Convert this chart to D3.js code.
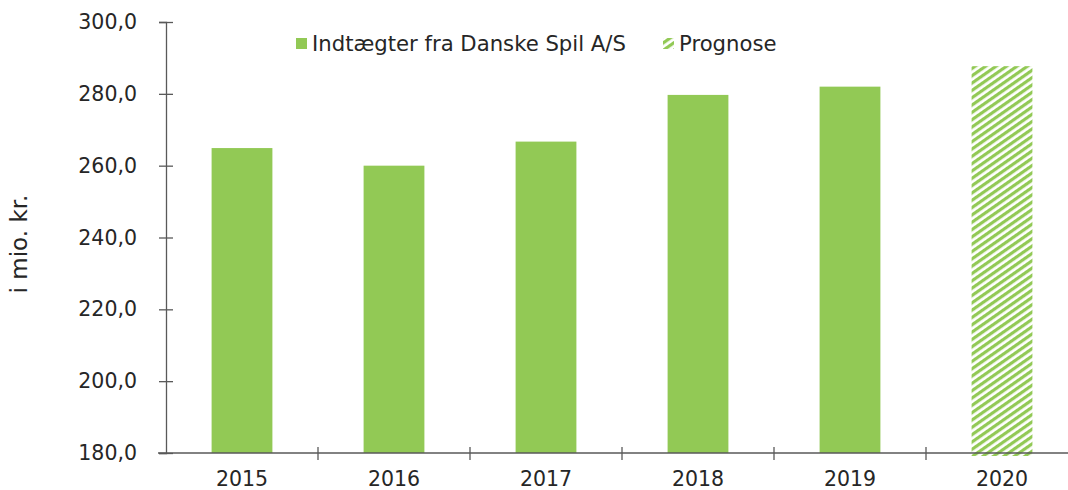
<!DOCTYPE html>
<html>
<head>
<meta charset="utf-8">
<script src="https://cdn.jsdelivr.net/npm/d3@7"></script>
<style>
  body { margin: 0; background: #fff; }
  svg { display: block; font-family: "DejaVu Sans", Verdana, sans-serif; }
</style>
</head>
<body>
<div id="chart"></div>
<script>
const years = ['2015', '2016', '2017', '2018', '2019', '2020'];
const values = [264.9, 260.0, 266.7, 279.7, 282.0, 287.7];
const forecast = [false, false, false, false, false, true];
const yTicks = [180, 200, 220, 240, 260, 280, 300];
const legendLabels = ['Indtægter fra Danske Spil A/S', 'Prognose'];

const width = 1068, height = 490;
const margin = { top: 22, right: -10, bottom: 37, left: 166 };
const green = '#92c955';
const textColor = '#262626';
const axisColor = '#595959';

const svg = d3.select('#chart').append('svg')
    .attr('width', width)
    .attr('height', height);

// hatch for the forecast bar
const defs = svg.append('defs');
const pat = defs.append('pattern')
    .attr('id', 'hatch')
    .attr('patternUnits', 'userSpaceOnUse')
    .attr('width', 6)
    .attr('height', 6)
    .attr('patternTransform', 'rotate(-35)');
pat.append('rect').attr('width', 6).attr('height', 6).attr('fill', '#fff');
pat.append('rect').attr('width', 6).attr('height', 3.2).attr('fill', green);

const x = d3.scaleBand()
    .domain(years)
    .range([margin.left, width - margin.right])
    .paddingInner(0.6)
    .paddingOuter(0.3);

const xOuter = d3.scaleBand()
    .domain(years)
    .range([margin.left, width - margin.right]);

const y = d3.scaleLinear()
    .domain([180, 300])
    .range([height - margin.bottom, margin.top]);

// bars
svg.append('g').selectAll('rect.bar')
    .data(years.map((yr, i) => ({ yr, v: values[i], f: forecast[i] })))
    .enter().append('rect')
    .attr('class', 'bar')
    .attr('x', d => x(d.yr))
    .attr('width', x.bandwidth())
    .attr('y', d => y(d.v))
    .attr('height', d => y(180) - y(d.v) + (d.f ? 3 : 0))
    .attr('fill', d => d.f ? 'url(#hatch)' : green);

// y axis
const yAxis = svg.append('g')
    .attr('transform', `translate(${margin.left},0)`)
    .call(d3.axisLeft(y).tickValues(yTicks).tickSize(7).tickPadding(22)
        .tickFormat(d => d3.format('.1f')(d).replace('.', ',')));
yAxis.select('.domain').attr('stroke', axisColor).attr('stroke-width', 1.3);
yAxis.selectAll('.tick line').attr('stroke', axisColor).attr('stroke-width', 1.3)
    .attr('x1', 7);
yAxis.selectAll('.tick text')
    .attr('fill', textColor)
    .attr('font-size', 20.5)
    .attr('font-family', '"DejaVu Sans", Verdana, sans-serif');

// x axis
const xAxis = svg.append('g')
    .attr('transform', `translate(0,${y(180)})`);
xAxis.append('line')
    .attr('x1', margin.left - 8)
    .attr('x2', width)
    .attr('stroke', axisColor)
    .attr('stroke-width', 1.3);
const bounds = years.map(yr => xOuter(yr)).concat([xOuter(years[years.length - 1]) + xOuter.bandwidth()]);
xAxis.selectAll('line.tk')
    .data(bounds.slice(1))
    .enter().append('line')
    .attr('class', 'tk')
    .attr('x1', d => d).attr('x2', d => d)
    .attr('y1', -6).attr('y2', 7)
    .attr('stroke', axisColor)
    .attr('stroke-width', 1.3);
xAxis.selectAll('text')
    .data(years)
    .enter().append('text')
    .attr('x', d => xOuter(d) + xOuter.bandwidth() / 2)
    .attr('y', 33)
    .attr('text-anchor', 'middle')
    .attr('font-size', 20.5)
    .attr('fill', textColor)
    .text(d => d);

// y label
svg.append('text')
    .attr('transform', 'translate(27,244) rotate(-90)')
    .attr('text-anchor', 'middle')
    .attr('font-size', 23)
    .attr('fill', textColor)
    .text('i mio. kr.');

// legend
const legend = svg.append('g');
const legendX = [296, 663];
legendLabels.forEach((lab, i) => {
    legend.append('rect')
        .attr('x', legendX[i])
        .attr('y', 38)
        .attr('width', 11)
        .attr('height', 11)
        .attr('fill', i === 0 ? green : 'url(#hatch)');
    legend.append('text')
        .attr('x', legendX[i] + 16)
        .attr('y', 51)
        .attr('font-size', 21.2)
        .attr('fill', textColor)
        .text(lab);
});
</script>
</body>
</html>
